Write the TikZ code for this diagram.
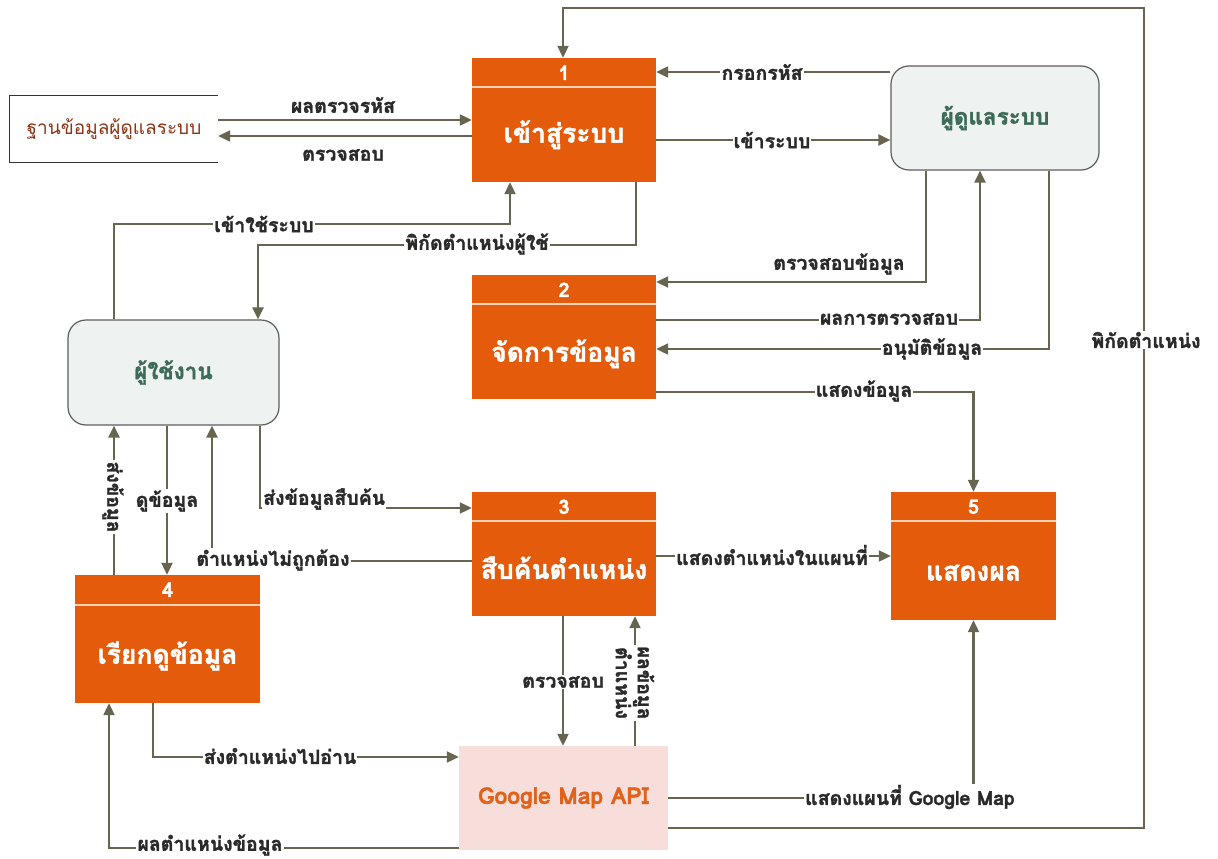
\documentclass[tikz,border=0pt]{standalone}
\usepackage{fontspec}
\newfontfamily\thai[Script=Thai, BoldFeatures={FakeBold=1.6}]{Loma}
\usetikzlibrary{arrows.meta}
\definecolor{procc}{HTML}{E35B0B}
\definecolor{flowc}{HTML}{67654F}
\definecolor{entfill}{HTML}{EEF2F0}
\definecolor{entdraw}{HTML}{5E5E5E}
\definecolor{enttext}{HTML}{3D6B58}
\definecolor{storetext}{HTML}{8C3414}
\definecolor{gfill}{HTML}{F7DEDB}
\definecolor{gtext}{HTML}{E0621B}
\definecolor{lbltext}{HTML}{2A2A2A}
\definecolor{sepc}{HTML}{F6D2B8}
\newcommand\lblfont{\thai\bfseries\fontsize{19.5}{22}\selectfont}
\begin{document}
\begin{tikzpicture}[x=1pt,y=-1pt,
  procbox/.style={draw=none, fill=procc, minimum width=184pt, minimum height=124pt, inner sep=0pt},
  procnum/.style={text=white, font=\thai\bfseries\fontsize{20}{20}\selectfont, inner sep=0pt},
  proclbl/.style={text=white, font=\thai\bfseries\fontsize{26.5}{26}\selectfont, inner sep=0pt},
  sepline/.style={draw=sepc, line width=1.5pt},
  entity/.style={draw=entdraw, line width=1.2pt, fill=entfill, rounded corners=18pt, text=enttext, font=\thai\bfseries\fontsize{22.5}{22}\selectfont},
  flow/.style={draw=flowc, line width=2.1pt, -{Triangle[length=12pt,width=11pt]}},
  lbl/.style={fill=white, inner sep=1pt, text=lbltext, font=\lblfont},
  storeline/.style={draw=black!80, line width=1pt}
]
\useasboundingbox[fill=white] (0,0) rectangle (1218,859);

% processes
\node[procbox] (p1) at (564,120) {};
\draw[sepline] ([yshift=-29pt]p1.north west) -- ([yshift=-29pt]p1.north east);
\node[procnum] (p1n) at ([yshift=-15pt]p1.north) {1};
\node[proclbl] (p1l) at ([yshift=-77pt]p1.north) {เข้าสู่ระบบ};

\node[procbox] (p2) at (564,337) {};
\draw[sepline] ([yshift=-29pt]p2.north west) -- ([yshift=-29pt]p2.north east);
\node[procnum] (p2n) at ([yshift=-15pt]p2.north) {2};
\node[proclbl] (p2l) at ([yshift=-79pt]p2.north) {จัดการข้อมูล};

\node[procbox] (p3) at (564,554) {};
\draw[sepline] ([yshift=-29pt]p3.north west) -- ([yshift=-29pt]p3.north east);
\node[procnum] (p3n) at ([yshift=-15pt]p3.north) {3};
\node[proclbl] (p3l) at ([yshift=-76pt]p3.north) {สืบค้นตำแหน่ง};

\node[procbox, minimum width=185pt, minimum height=128pt] (p4) at (167.5,639) {};
\draw[sepline] ([yshift=-30pt]p4.north west) -- ([yshift=-30pt]p4.north east);
\node[procnum] (p4n) at ([yshift=-15pt]p4.north) {4};
\node[proclbl] (p4l) at ([yshift=-81pt]p4.north) {เรียกดูข้อมูล};

\node[procbox, minimum width=165pt, minimum height=128pt] (p5) at (973.5,556) {};
\draw[sepline] ([yshift=-29pt]p5.north west) -- ([yshift=-29pt]p5.north east);
\node[procnum] (p5n) at ([yshift=-15pt]p5.north) {5};
\node[proclbl] (p5l) at ([yshift=-81pt]p5.north) {แสดงผล};

% entities
\node[entity, minimum width=208pt, minimum height=104pt] (adm) at (995,118) {ผู้ดูแลระบบ};
\node[entity, minimum width=211pt, minimum height=105pt] (usr) at (173.5,372.5) {ผู้ใช้งาน};

% data store
\node[minimum width=208pt, minimum height=66pt, inner sep=0pt, text=storetext, font=\thai\fontsize{19}{19}\selectfont] (ds) at (114,129) {ฐานข้อมูลผู้ดูแลระบบ};
\draw[storeline] (ds.north east) -- (ds.north west) -- (ds.south west) -- (ds.south east);

% google
\node[fill=gfill, minimum width=209pt, minimum height=104pt, text=gtext, font=\thai\bfseries\fontsize{23}{23}\selectfont] (gm) at (563.5,798) {Google Map API};

% connectors
\draw[flow] (adm.west |- 0,72) -- (p1.east |- 0,72);
\draw[flow] (p1.east |- 0,140) -- (adm.west |- 0,140);
\draw[flow] (ds.east |- 0,120) -- (p1.west |- 0,120);
\draw[flow] (p1.west |- 0,136) -- (ds.east |- 0,136);
\draw[flow] (adm.south -| 926,0) -- (926,282) -- (p2.east |- 0,282);
\draw[flow] (p2.east |- 0,320) -- (980,320) -- (adm.south -| 980,0);
\draw[flow] (adm.south -| 1049,0) -- (1049,349) -- (p2.east |- 0,349);
\draw[flow] (p2.east |- 0,392) -- (973.5,392) -- (p5.north);
\draw[flow] (gm.east |- 0,828) -- (1144,828) -- (1144,8) -- (563,8) -- (p1.north -| 563,0);
\draw[flow] (usr.north -| 114,0) -- (114,224) -- (510,224) -- (p1.south -| 510,0);
\draw[flow] (p1.south -| 636,0) -- (636,245) -- (258,245) -- (usr.north -| 258,0);
\draw[flow] (p4.north -| 114,0) -- (usr.south -| 114,0);
\draw[flow] (usr.south -| 167,0) -- (p4.north -| 167,0);
\draw[flow] (p3.west |- 0,561) -- (212,561) -- (usr.south -| 212,0);
\draw[flow] (usr.south -| 260,0) -- (260,508) -- (p3.west |- 0,508);
\draw[flow] (p3.east |- 0,556) -- (p5.west |- 0,556);
\draw[flow] (p3.south -| 563,0) -- (gm.north -| 563,0);
\draw[flow] (gm.north -| 635,0) -- (p3.south -| 635,0);
\draw[flow] (p4.south -| 153,0) -- (153,757) -- (gm.west |- 0,757);
\draw[flow] (gm.west |- 0,848) -- (109,848) -- (p4.south -| 109,0);
\draw[flow] (gm.east |- 0,798) -- (973.5,798) -- (p5.south);

% labels
\node[lbl] (t1) at (762,72) {กรอกรหัส};
\node[lbl] (t2) at (772,140) {เข้าระบบ};
\node[lbl] (t3) at (343,105) {ผลตรวจรหัส};
\node[lbl] (t4) at (343,155) {ตรวจสอบ};
\node[lbl] (t5) at (1146,340) {พิกัดตำแหน่ง};
\node[lbl] (t6) at (264,224) {เข้าใช้ระบบ};
\node[lbl] (t7) at (477,244) {พิกัดตำแหน่งผู้ใช้};
\node[lbl] (t8) at (839,264) {ตรวจสอบข้อมูล};
\node[lbl] (t9) at (889,319) {ผลการตรวจสอบ};
\node[lbl] (t10) at (932,349) {อนุมัติข้อมูล};
\node[lbl] (t11) at (864,391) {แสดงข้อมูล};
\node[lbl, rotate=-90] (t12) at (113,497) {ส่งข้อมูล};
\node[lbl] (t13) at (167,501) {ดูข้อมูล};
\node[lbl] (t14) at (273,560) {ตำแหน่งไม่ถูกต้อง};
\node[lbl, anchor=west] (t15) at (262,499) {ส่งข้อมูลสืบค้น};
\node[lbl] (t16) at (772,555) {แสดงตำแหน่งในแผนที่};
\node[lbl] (t17) at (563,682) {ตรวจสอบ};
\node[lbl, rotate=-90, align=center] (t18) at (635,683) {ผลข้อมูล\\ตำแหน่ง};
\node[lbl] (t19) at (280,756) {ส่งตำแหน่งไปอ่าน};
\node[lbl] (t20) at (210,845) {ผลตำแหน่งข้อมูล};
\node[lbl] (t21) at (910,797) {แสดงแผนที่ Google Map};
\end{tikzpicture}
\end{document}
